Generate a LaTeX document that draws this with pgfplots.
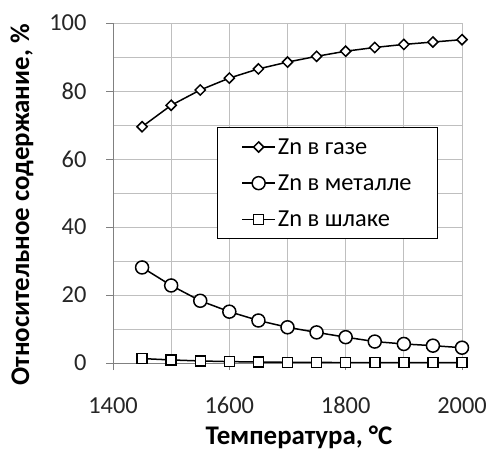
\documentclass[border=0pt]{standalone}
\usepackage{fontspec}
\setmainfont{Carlito}
\usepackage{pgfplots}
\pgfplotsset{compat=1.18}
\begin{document}
\begin{tikzpicture}
\begin{axis}[
    at={(113bp,88bp)}, anchor=south west,
    scale only axis, width=349bp, height=340bp,
    xmin=1400, xmax=2000, ymin=0, ymax=100,
    xtick={1400,1600,1800,2000}, minor x tick num=1,
    ytick={0,20,...,100}, minor y tick num=1,
    grid=both,
    major grid style={black!25, line width=0.8bp},
    minor grid style={black!25, line width=0.8bp},
    axis lines=left, axis line style={-, black!50, line width=0.8bp},
    tick align=outside, major tick length=7bp, minor tick length=0bp,
    tick style={black!50, line width=0.8bp},
    /pgf/number format/1000 sep={},
    /pgf/number format/assume math mode=true,
    ticklabel style={font=\fontsize{24.5}{28}\selectfont, text=black!85},
    xticklabel style={anchor=base, yshift=-43bp},
    yticklabel style={anchor=east, xshift=-16bp},
    xlabel={Температура, °C},
    ylabel={Относительное содержание, \%},
    label style={font=\bfseries\fontsize{27}{32}\selectfont},
    xlabel style={at={(axis description cs:0.533,0)}, anchor=base, yshift=-81bp},
    ylabel style={at={(axis description cs:0,0.465)}, anchor=center, yshift=91bp},
    legend style={at={(0.298,0.694)}, anchor=north west, draw=black,
        line width=0.8bp, font=\fontsize{24.5}{28}\selectfont,
        row sep=15bp, inner xsep=24bp, inner ysep=9bp},
    legend cell align=left,
    legend image code/.code={\draw[mark repeat=2,mark phase=2]
        plot coordinates {(0bp,0bp)(16.5bp,0bp)(33bp,0bp)};},
    every axis plot/.append style={black, line width=1.5bp},
]
\addplot[mark=square*, mark size=3.6bp, mark options={fill=white, solid, rotate=45}] coordinates {
    (1450,69.5)(1500,75.8)(1550,80.3)(1600,83.8)(1650,86.5)(1700,88.5)
    (1750,90.2)(1800,91.7)(1850,92.8)(1900,93.7)(1950,94.4)(2000,95.1)
};
\addplot[mark=*, mark size=6.5bp, mark options={fill=white, solid}] coordinates {
    (1450,28.1)(1500,22.8)(1550,18.3)(1600,15.1)(1650,12.5)(1700,10.5)
    (1750,9.0)(1800,7.6)(1850,6.3)(1900,5.6)(1950,5.1)(2000,4.5)
};
\addplot[mark=square*, mark size=5bp, mark options={fill=white, solid}] coordinates {
    (1450,1.3)(1500,0.9)(1550,0.6)(1600,0.4)(1650,0.3)(1700,0.2)
    (1750,0.2)(1800,0.1)(1850,0.1)(1900,0.1)(1950,0.1)(2000,0.1)
};
\legend{Zn в газе, Zn в металле, Zn в шлаке}
\end{axis}
\pgfresetboundingbox
\path (0bp,0bp) rectangle (491bp,451bp);
\end{tikzpicture}
\end{document}
